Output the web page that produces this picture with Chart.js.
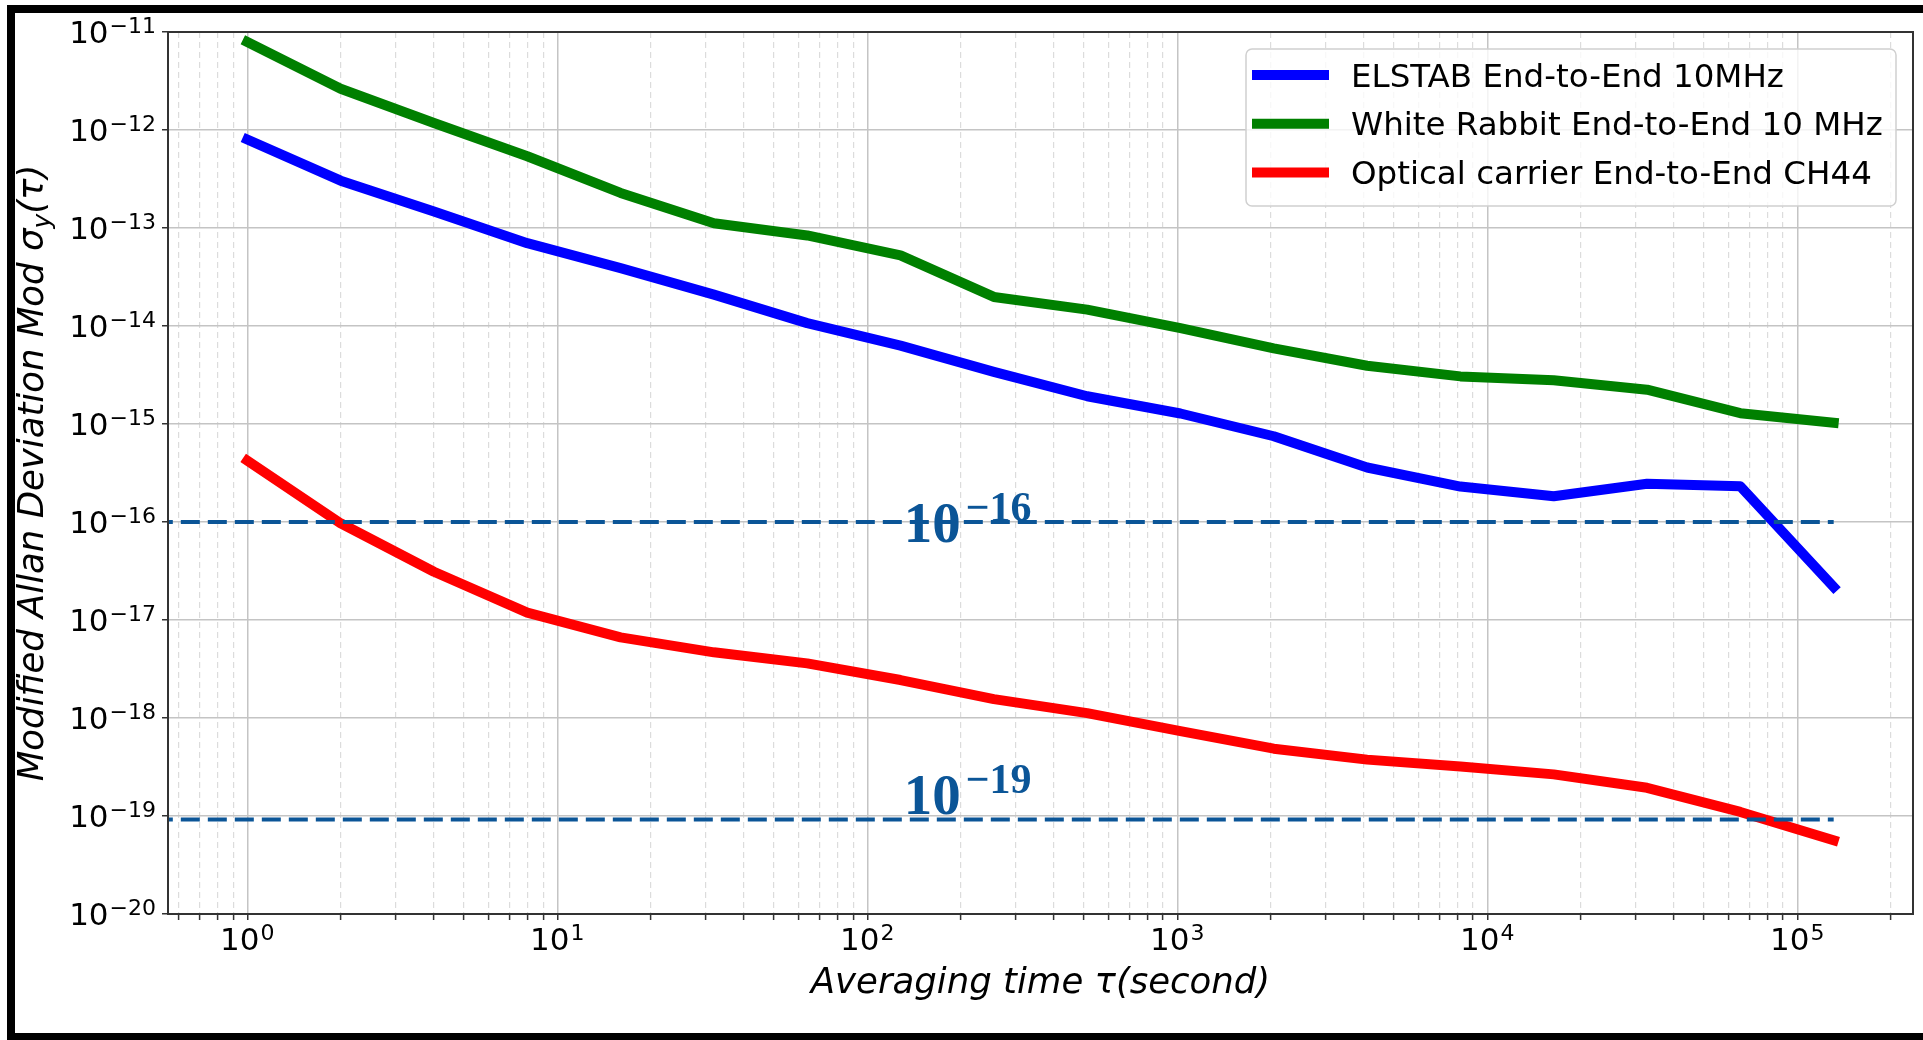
<!DOCTYPE html>
<html>
<head>
<meta charset="utf-8">
<title>Modified Allan Deviation</title>
<script src="https://cdn.jsdelivr.net/npm/chart.js@4.4.1/dist/chart.umd.min.js"></script>
<style>
  html, body { margin: 0; padding: 0; background: #ffffff; overflow: hidden; }
  #wrap { position: relative; width: 1923px; height: 1040px; }
  #frame {
    position: absolute; left: 7px; top: 5px; width: 1960px; height: 1036px;
    box-sizing: border-box; border: 8px solid #000; border-right: none;
    pointer-events: none;
  }
</style>
</head>
<body>
<div id="wrap">
  <canvas id="myChart"></canvas>
  <div id="frame"></div>
</div>
<script>
"use strict";

// averaging times (s)
const tau = [1, 2, 4, 8, 16, 32, 64, 128, 256, 512, 1024, 2048, 4096, 8192, 16384, 32768, 65536, 131072];

// series
const elstab = [8.0e-13, 3.04e-13, 1.47e-13, 7.0e-14, 3.9e-14, 2.09e-14, 1.07e-14, 6.3e-15, 3.4e-15,
  1.92e-15, 1.28e-15, 7.5e-16, 3.6e-16, 2.3e-16, 1.83e-16, 2.46e-16, 2.31e-16, 2.17e-17];
const whiteRabbit = [7.9e-12, 2.64e-12, 1.18e-12, 5.4e-13, 2.28e-13, 1.12e-13, 8.4e-14, 5.25e-14, 1.98e-14,
  1.47e-14, 9.5e-15, 5.9e-15, 3.93e-15, 3.06e-15, 2.79e-15, 2.24e-15, 1.29e-15, 1.03e-15];
const optical = [4.23e-16, 9.7e-17, 3.11e-17, 1.19e-17, 6.65e-18, 4.68e-18, 3.61e-18, 2.44e-18, 1.56e-18,
  1.12e-18, 7.36e-19, 4.86e-19, 3.76e-19, 3.2e-19, 2.66e-19, 1.94e-19, 1.10e-19, 5.65e-20];

const seriesLabels = ["ELSTAB End-to-End 10MHz", "White Rabbit End-to-End 10 MHz", "Optical carrier End-to-End CH44"];
const seriesColors = ["#0000ff", "#008000", "#ff0000"];

// dashed reference levels and their labels
const refLevels = [1e-16, 9.2e-20];
const annotExps = ["\u221216", "\u221219"];
const annotX = [131, 131];
const annotY = [6.2e-17, 1.06e-19];

// tick labels (decade exponents)
const xTickExps = [0, 1, 2, 3, 4, 5];
const yTickExps = [-20, -19, -18, -17, -16, -15, -14, -13, -12, -11];

const xAxisTitle = "Averaging time \u03c4(second)";
const refColor = "#0b5597";

// x limits like matplotlib's 5% log margins
const lastTau = tau[tau.length - 1];
const span = Math.log10(lastTau) - Math.log10(tau[0]);
const xMin = Math.pow(10, Math.log10(tau[0]) - 0.05 * span);
const xMax = Math.pow(10, Math.log10(lastTau) + 0.05 * span);

const toPoints = function (ys) {
  return tau.map(function (t, i) { return { x: t, y: ys[i] }; });
};

const minusSign = function (n) {
  return n < 0 ? "\u2212" + Math.abs(n) : String(n);
};

// x ticks: decades plus 2..9 minors inside the range
const xTicks = [];
for (let e = -1; e <= 6; e++) {
  for (let m = 1; m <= 9; m++) {
    const v = m * Math.pow(10, e);
    if (v >= xMin && v <= xMax) xTicks.push({ value: v, major: m === 1 });
  }
}
const yTicks = yTickExps.map(function (e) { return { value: Math.pow(10, e), major: true }; });

const curves = [elstab, whiteRabbit, optical].map(function (ys, i) {
  return {
    label: seriesLabels[i],
    data: toPoints(ys),
    borderColor: seriesColors[i],
    backgroundColor: seriesColors[i],
    borderWidth: 10,
    borderCapStyle: "square",
    borderJoinStyle: "round",
    pointRadius: 0,
    tension: 0,
    order: 2,
  };
});

const refLines = refLevels.map(function (lv) {
  return {
    label: "ref",
    data: [{ x: xMin * 0.9, y: lv }, { x: lastTau, y: lv }],
    borderColor: refColor,
    borderWidth: 4,
    borderDash: [19, 8],
    pointRadius: 0,
    order: 1,
  };
});

// text drawing, spines, legend
const decorations = {
  id: "decorations",
  afterDatasetsDraw(chart) {
    const ctx = chart.ctx;
    const xs = chart.scales.x, ys = chart.scales.y;
    ctx.save();
    ctx.fillStyle = refColor;
    ctx.textBaseline = "alphabetic";
    ctx.textAlign = "left";
    for (let i = 0; i < annotExps.length; i++) {
      const px = xs.getPixelForValue(annotX[i]);
      const py = ys.getPixelForValue(annotY[i]);
      ctx.font = 'bold 57px "Liberation Serif"';
      ctx.fillText("10", px, py);
      const bw = ctx.measureText("10").width;
      ctx.font = 'bold 42px "Liberation Serif"';
      ctx.fillText(annotExps[i], px + bw + 5, py - 21);
    }
    ctx.restore();
  },
  afterDraw(chart) {
    const ctx = chart.ctx;
    const area = chart.chartArea;
    const xs = chart.scales.x, ys = chart.scales.y;
    ctx.save();

    // spines
    ctx.strokeStyle = "#333333";
    ctx.lineWidth = 2;
    ctx.strokeRect(area.left, area.top, area.right - area.left, area.bottom - area.top);

    // tick labels
    ctx.fillStyle = "#000";
    ctx.textBaseline = "alphabetic";
    ctx.textAlign = "left";
    yTickExps.forEach(function (e) {
      const py = ys.getPixelForValue(Math.pow(10, e));
      const ex = minusSign(e);
      ctx.font = '31px "DejaVu Sans"';
      const bw = ctx.measureText("10").width;
      ctx.font = '22px "DejaVu Sans"';
      const ew = ctx.measureText(ex).width;
      const right = area.left - 12;
      ctx.fillText(ex, right - ew, py + 1);
      ctx.font = '31px "DejaVu Sans"';
      ctx.fillText("10", right - ew - bw - 1, py + 11);
    });
    xTickExps.forEach(function (e) {
      const px = xs.getPixelForValue(Math.pow(10, e));
      const ex = minusSign(e);
      ctx.font = '31px "DejaVu Sans"';
      const bw = ctx.measureText("10").width;
      ctx.font = '22px "DejaVu Sans"';
      const ew = ctx.measureText(ex).width;
      const start = px - (bw + 1 + ew) / 2;
      ctx.font = '31px "DejaVu Sans"';
      ctx.fillText("10", start, area.bottom + 36);
      ctx.font = '22px "DejaVu Sans"';
      ctx.fillText(ex, start + bw + 1, area.bottom + 26);
    });

    // x title
    ctx.font = 'italic 35.5px "DejaVu Sans"';
    ctx.textAlign = "center";
    ctx.fillText(xAxisTitle, (area.left + area.right) / 2, area.bottom + 79);

    // y title with subscript
    const parts = [
      { t: "Modified Allan Deviation Mod \u03c3", f: 'italic 35.5px "DejaVu Sans"', dy: 0 },
      { t: "y", f: 'italic 25px "DejaVu Sans"', dy: 7 },
      { t: "(\u03c4)", f: 'italic 35.5px "DejaVu Sans"', dy: 0 },
    ];
    let total = 0;
    parts.forEach(function (p) { ctx.font = p.f; p.w = ctx.measureText(p.t).width; total += p.w; });
    ctx.translate(43, (area.top + area.bottom) / 2);
    ctx.rotate(-Math.PI / 2);
    ctx.textAlign = "left";
    let cx = -total / 2;
    parts.forEach(function (p) { ctx.font = p.f; ctx.fillText(p.t, cx, p.dy); cx += p.w; });
    ctx.setTransform(1, 0, 0, 1, 0, 0);

    // legend
    const bx = area.right - 667, by = area.top + 17, bwid = 650, bh = 157;
    ctx.beginPath();
    ctx.roundRect(bx, by, bwid, bh, 6);
    ctx.fillStyle = "rgba(255,255,255,0.8)";
    ctx.fill();
    ctx.strokeStyle = "#d0d0d0";
    ctx.lineWidth = 1.5;
    ctx.stroke();
    ctx.font = '32.5px "DejaVu Sans"';
    ctx.textAlign = "left";
    seriesLabels.forEach(function (lab, i) {
      const ly = by + 26 + i * 48.8;
      ctx.strokeStyle = seriesColors[i];
      ctx.lineWidth = 10;
      ctx.lineCap = "butt";
      ctx.beginPath();
      ctx.moveTo(bx + 6, ly);
      ctx.lineTo(bx + 83, ly);
      ctx.stroke();
      ctx.fillStyle = "#000";
      ctx.fillText(lab, bx + 105, ly + 11.5);
    });
    ctx.restore();
  },
};

const ctx = document.getElementById("myChart");

new Chart(ctx, {
  type: "line",
  data: { datasets: curves.concat(refLines) },
  plugins: [decorations],
  options: {
    responsive: true,
    maintainAspectRatio: false,
    animation: false,
    events: [],
    layout: { padding: { left: 0, top: 32, right: 10, bottom: 0 } },
    plugins: {
      legend: { display: false },
      tooltip: { enabled: false },
    },
    scales: {
      x: {
        type: "logarithmic",
        min: xMin,
        max: xMax,
        afterBuildTicks: function (scale) { scale.ticks = xTicks.map(function (t) { return { value: t.value, major: t.major }; }); },
        afterFit: function (scale) { scale.height = 126; },
        ticks: { display: false },
        border: {
          display: false,
          dash: function (c) { return c.tick && !c.tick.major ? [6, 4] : []; },
        },
        grid: {
          color: function (c) { return c.tick && c.tick.major ? "#c4c4c4" : "#dcdcdc"; },
          lineWidth: function (c) { return c.tick && c.tick.major ? 1.5 : 1.2; },
          tickColor: "#333333",
          tickLength: 6,
          tickWidth: 1.5,
        },
      },
      y: {
        type: "logarithmic",
        min: 1e-20,
        max: 1e-11,
        afterBuildTicks: function (scale) { scale.ticks = yTicks.map(function (t) { return { value: t.value, major: true }; }); },
        afterFit: function (scale) { scale.width = 168; },
        ticks: { display: false },
        border: { display: false },
        grid: {
          color: "#c4c4c4",
          lineWidth: 1.5,
          tickColor: "#333333",
          tickLength: 6,
          tickWidth: 1.5,
        },
      },
    },
  },
});
</script>
</body>
</html>
